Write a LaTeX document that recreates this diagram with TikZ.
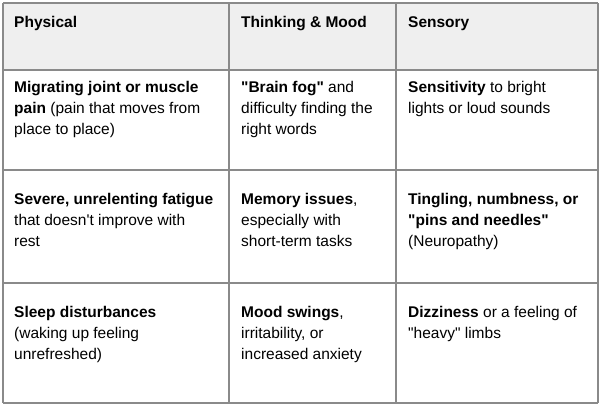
\documentclass[tikz,border=0pt]{standalone}
\usepackage{fontspec}
\setmainfont{Liberation Sans}[Ligatures=TeXOff]
\usetikzlibrary{positioning}
\definecolor{headgray}{HTML}{EFEFEF}
\definecolor{rulegray}{HTML}{8A8A8A}
\tikzset{
  cell/.style={anchor=north west, inner sep=0pt, align=left,
    font=\fontsize{15.5}{21}\selectfont},
  rule/.style={draw=rulegray, line width=1.2pt}
}
\begin{document}
\begin{tikzpicture}[x=1pt, y=-1pt]
    \useasboundingbox (0,0) rectangle (600,406);
    \fill[headgray] (3,3) rectangle (598,70);
    % grid of the table
    \foreach \y in {3,70,170,283,403}
        \draw[rule] (3,\y) -- (598,\y);
    \foreach \x in {3,229,396,598}
        \draw[rule] (\x,3) -- (\x,403);
    % header
    \node[cell] (h1) at (14,16) {\textbf{Physical}};
    \node[cell] (h2) at (241,16) {\textbf{Thinking \& Mood}};
    \node[cell] (h3) at (408,16) {\textbf{Sensory}};
    % first row
    \node[cell] (c11) at (14,81) {\textbf{Migrating joint or muscle}\\\textbf{pain} (pain that moves from\\place to place)};
    \node[cell] (c12) at (241,81) {\textbf{"Brain fog"} and\\difficulty finding the\\right words};
    \node[cell] (c13) at (408,81) {\textbf{Sensitivity} to bright\\lights or loud sounds};
    % second row
    \node[cell] (c21) at (14,193) {\textbf{Severe, unrelenting fatigue}\\that doesn't improve with\\rest};
    \node[cell] (c22) at (241,193) {\textbf{Memory issues},\\especially with\\short-term tasks};
    \node[cell] (c23) at (408,193) {\textbf{Tingling, numbness, or}\\\textbf{"pins and needles"}\\(Neuropathy)};
    % third row
    \node[cell] (c31) at (14,306) {\textbf{Sleep disturbances}\\(waking up feeling\\unrefreshed)};
    \node[cell] (c32) at (241,306) {\textbf{Mood swings},\\irritability, or\\increased anxiety};
    \node[cell] (c33) at (408,306) {\textbf{Dizziness} or a feeling of\\"heavy" limbs};
\end{tikzpicture}
\end{document}
